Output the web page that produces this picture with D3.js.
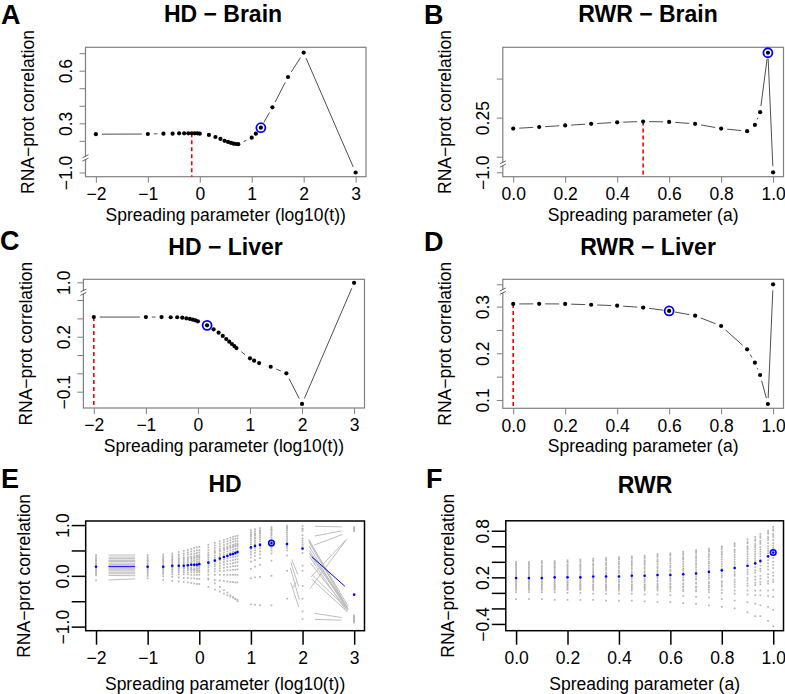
<!DOCTYPE html>
<html>
<head>
<meta charset="utf-8">
<script src="https://cdn.jsdelivr.net/npm/d3@7"></script>
<style>
  body { margin: 0; background: #fff; }
  svg { display: block; font-family: "Liberation Sans", Arial, sans-serif; }
</style>
</head>
<body>
<svg id="fig" width="785" height="694"></svg>
<script>
// spreading parameter values
const hdT = [0.01, 0.1, 0.2, 0.3, 0.4, 0.5, 0.6, 0.7, 0.8, 0.9, 1, 1.5, 2, 2.5, 3, 3.5, 4, 4.5, 5, 5.5, 10, 12, 15, 25, 50, 100, 1000];
const rwrA = [0, 0.1, 0.2, 0.3, 0.4, 0.5, 0.6, 0.7, 0.8, 0.9, 0.93, 0.95, 0.98, 1];
const rwrAll = [0, 0.05, 0.1, 0.15, 0.2, 0.25, 0.3, 0.35, 0.4, 0.45, 0.5, 0.55, 0.6, 0.65, 0.7, 0.75, 0.8, 0.85, 0.9, 0.93, 0.95, 0.98, 1];

// correlation per tissue
const hdBrain = [0.238, 0.239, 0.241, 0.241, 0.243, 0.243, 0.243, 0.243, 0.243, 0.243, 0.241, 0.234, 0.222, 0.211, 0.200, 0.194, 0.188, 0.184, 0.182, 0.181, 0.218, 0.241, 0.275, 0.391, 0.564, 0.703, -1.0];
const rwrBrain = [0.236, 0.238, 0.240, 0.242, 0.244, 0.245, 0.2445, 0.242, 0.236, 0.2326, 0.2407, 0.257, 0.333, -1.0];
const hdLiver = [0.307, 0.307, 0.307, 0.306, 0.306, 0.304, 0.300, 0.297, 0.293, 0.289, 0.284, 0.262, 0.240, 0.222, 0.204, 0.187, 0.173, 0.160, 0.149, 0.138, 0.082, 0.069, 0.056, 0.036, 0.0, -0.167, 0.97];
const rwrLiver = [0.3057, 0.306, 0.3057, 0.304, 0.302, 0.298, 0.2907, 0.2806, 0.2585, 0.2086, 0.18, 0.1535, 0.0914, 1.0];

// index of best value (blue ring) and of default value (red dashes)
const hdBrainBest = 22, hdBrainDefault = 7;
const rwrBrainBest = 12, rwrBrainDefault = 5;
const hdLiverBest = 11, hdLiverDefault = 0;
const rwrLiverBest = 6, rwrLiverDefault = 0;

// all tissues: mean correlation (blue)
const hdMean = [0.18, 0.18, 0.18, 0.20, 0.20, 0.20, 0.21, 0.22, 0.22, 0.22, 0.23, 0.26, 0.30, 0.34, 0.37, 0.39, 0.42, 0.43, 0.45, 0.47, 0.56, 0.59, 0.61, 0.645, 0.625, 0.54, -0.37];
const rwrMean = [0.19, 0.19, 0.19, 0.20, 0.20, 0.20, 0.21, 0.21, 0.21, 0.22, 0.22, 0.23, 0.23, 0.24, 0.25, 0.27, 0.29, 0.32, 0.35, 0.38, 0.41, 0.47, 0.52];
const hdMeanBest = 23, rwrMeanBest = 22;

// all tissues: one row per tissue (grey)
const hdTissues = [
  [0.41,0.41,0.42,0.44,0.47,0.49,0.51,0.53,0.55,0.56,0.57,0.61,0.65,0.68,0.71,0.73,0.75,0.77,0.78,0.79,0.90,0.92,0.94,0.96,0.99,0.98,0.96],
  [0.37,0.37,0.38,0.40,0.42,0.44,0.46,0.48,0.49,0.50,0.51,0.56,0.60,0.63,0.66,0.68,0.70,0.72,0.73,0.74,0.86,0.88,0.90,0.93,0.96,0.93,-0.88],
  [0.34,0.34,0.35,0.37,0.39,0.40,0.42,0.43,0.44,0.45,0.46,0.51,0.55,0.58,0.61,0.63,0.65,0.67,0.68,0.69,0.82,0.84,0.87,0.90,0.93,0.88,-0.85],
  [0.31,0.31,0.32,0.33,0.35,0.36,0.37,0.38,0.39,0.40,0.41,0.46,0.50,0.53,0.56,0.58,0.60,0.61,0.63,0.64,0.78,0.80,0.83,0.86,0.90,0.80,-0.90],
  [0.28,0.28,0.29,0.30,0.31,0.32,0.33,0.34,0.35,0.36,0.37,0.41,0.45,0.48,0.51,0.53,0.55,0.57,0.58,0.59,0.74,0.76,0.79,0.83,0.86,0.74,0.93],
  [0.25,0.25,0.26,0.27,0.28,0.29,0.30,0.31,0.31,0.32,0.33,0.37,0.40,0.43,0.46,0.48,0.50,0.52,0.53,0.54,0.70,0.73,0.76,0.80,0.82,0.70,-0.82],
  [0.22,0.22,0.23,0.24,0.25,0.26,0.27,0.27,0.28,0.28,0.29,0.33,0.36,0.39,0.41,0.43,0.45,0.47,0.48,0.49,0.66,0.69,0.72,0.76,0.78,0.66,-0.86],
  [0.20,0.20,0.20,0.21,0.22,0.23,0.23,0.24,0.24,0.25,0.25,0.29,0.32,0.35,0.37,0.39,0.41,0.42,0.43,0.44,0.62,0.65,0.68,0.72,0.74,0.62,-0.80],
  [0.18,0.18,0.18,0.19,0.19,0.20,0.20,0.21,0.21,0.21,0.22,0.25,0.28,0.30,0.32,0.34,0.36,0.37,0.38,0.39,0.57,0.60,0.63,0.68,0.70,0.58,-0.92],
  [0.15,0.15,0.15,0.16,0.16,0.17,0.17,0.17,0.18,0.18,0.18,0.21,0.23,0.25,0.27,0.29,0.30,0.31,0.32,0.33,0.52,0.55,0.58,0.63,0.66,0.52,0.90],
  [0.13,0.13,0.13,0.13,0.13,0.14,0.14,0.14,0.14,0.15,0.15,0.17,0.19,0.20,0.22,0.23,0.24,0.25,0.26,0.27,0.47,0.50,0.54,0.60,0.62,0.45,-0.84],
  [0.10,0.10,0.10,0.10,0.10,0.10,0.11,0.11,0.11,0.11,0.11,0.12,0.14,0.15,0.16,0.17,0.18,0.19,0.19,0.20,0.42,0.45,0.48,0.55,0.58,0.20,-0.78],
  [0.07,0.07,0.07,0.07,0.07,0.07,0.07,0.07,0.07,0.07,0.07,0.08,0.09,0.10,0.10,0.11,0.11,0.12,0.12,0.13,0.36,0.39,0.42,0.50,0.55,-0.20,0.88],
  [0.04,0.04,0.04,0.03,0.03,0.03,0.03,0.02,0.02,0.02,0.02,0.02,0.02,0.02,0.02,0.02,0.02,0.02,0.02,0.02,0.28,0.31,0.35,0.44,0.50,-0.45,0.92],
  [0.01,0.00,-0.01,-0.02,-0.03,-0.04,-0.04,-0.05,-0.05,-0.06,-0.06,-0.07,-0.08,-0.09,-0.10,-0.11,-0.12,-0.12,-0.13,-0.13,0.14,0.18,0.22,0.30,0.40,-0.70,-0.86],
  [-0.09,-0.05,-0.08,-0.10,-0.11,-0.12,-0.13,-0.14,-0.15,-0.16,-0.16,-0.22,-0.27,-0.31,-0.35,-0.38,-0.41,-0.43,-0.45,-0.47,-0.05,-0.03,-0.02,0.00,0.10,-0.85,-0.88],
  [0.30,0.30,0.31,0.32,0.33,0.34,0.35,0.36,0.36,0.37,0.38,0.42,0.47,0.50,0.53,0.55,0.57,0.58,0.60,0.61,0.80,0.82,0.85,0.90,0.95,0.92,-0.80],
  [0.19,0.19,0.18,0.17,0.16,0.15,0.14,0.13,0.12,0.11,0.10,-0.05,-0.15,-0.22,-0.28,-0.33,-0.38,-0.42,-0.46,-0.50,-0.56,-0.57,-0.58,-0.58,-0.45,0.10,-0.83]
];
const rwrTissues = [
  [0.40,0.40,0.41,0.41,0.42,0.43,0.44,0.45,0.46,0.47,0.48,0.50,0.51,0.53,0.55,0.57,0.60,0.64,0.69,0.72,0.76,0.80,0.85],
  [0.38,0.38,0.39,0.39,0.40,0.41,0.42,0.43,0.44,0.45,0.46,0.48,0.49,0.51,0.53,0.55,0.58,0.62,0.66,0.69,0.73,0.78,0.82],
  [0.37,0.37,0.38,0.38,0.39,0.40,0.41,0.42,0.43,0.44,0.45,0.46,0.48,0.49,0.51,0.53,0.56,0.60,0.64,0.67,0.71,0.76,0.80],
  [0.35,0.35,0.35,0.36,0.36,0.37,0.38,0.39,0.40,0.41,0.42,0.43,0.45,0.46,0.48,0.50,0.53,0.56,0.60,0.63,0.67,0.72,0.76],
  [0.33,0.33,0.34,0.34,0.35,0.35,0.36,0.37,0.38,0.39,0.40,0.41,0.43,0.44,0.46,0.48,0.51,0.54,0.58,0.61,0.65,0.70,0.74],
  [0.32,0.32,0.32,0.33,0.33,0.34,0.35,0.36,0.37,0.37,0.38,0.40,0.41,0.43,0.44,0.46,0.49,0.52,0.56,0.59,0.63,0.68,0.72],
  [0.30,0.30,0.30,0.31,0.31,0.32,0.32,0.33,0.34,0.35,0.36,0.37,0.38,0.40,0.41,0.43,0.46,0.49,0.53,0.56,0.59,0.64,0.68],
  [0.28,0.28,0.28,0.29,0.29,0.30,0.30,0.31,0.32,0.32,0.33,0.34,0.35,0.37,0.38,0.40,0.43,0.46,0.50,0.53,0.56,0.60,0.64],
  [0.26,0.26,0.26,0.27,0.27,0.28,0.28,0.29,0.29,0.30,0.31,0.32,0.33,0.34,0.36,0.38,0.40,0.43,0.47,0.50,0.53,0.57,0.61],
  [0.24,0.24,0.24,0.25,0.25,0.25,0.26,0.26,0.27,0.27,0.28,0.29,0.30,0.31,0.33,0.35,0.37,0.40,0.44,0.47,0.50,0.54,0.58],
  [0.22,0.22,0.22,0.23,0.23,0.23,0.24,0.24,0.25,0.25,0.26,0.27,0.28,0.29,0.30,0.32,0.34,0.37,0.41,0.44,0.47,0.51,0.55],
  [0.20,0.20,0.20,0.20,0.21,0.21,0.21,0.22,0.22,0.23,0.23,0.24,0.25,0.26,0.27,0.29,0.31,0.34,0.38,0.41,0.43,0.47,0.50],
  [0.18,0.18,0.18,0.18,0.19,0.19,0.19,0.19,0.20,0.20,0.21,0.21,0.22,0.23,0.24,0.26,0.28,0.31,0.34,0.37,0.39,0.42,0.45],
  [0.16,0.16,0.16,0.16,0.16,0.17,0.17,0.17,0.17,0.18,0.18,0.19,0.19,0.20,0.21,0.23,0.25,0.27,0.30,0.33,0.35,0.38,0.40],
  [0.14,0.14,0.14,0.14,0.14,0.15,0.15,0.15,0.15,0.15,0.16,0.16,0.17,0.17,0.18,0.20,0.22,0.24,0.27,0.29,0.31,0.34,0.36],
  [0.13,0.13,0.13,0.13,0.13,0.13,0.14,0.14,0.14,0.14,0.14,0.15,0.15,0.16,0.17,0.18,0.20,0.22,0.24,0.26,0.28,0.30,0.32],
  [0.11,0.11,0.11,0.11,0.11,0.11,0.11,0.11,0.11,0.11,0.11,0.12,0.12,0.12,0.13,0.14,0.15,0.17,0.19,0.21,0.22,0.24,0.26],
  [0.10,0.10,0.10,0.10,0.10,0.10,0.10,0.10,0.10,0.10,0.10,0.10,0.11,0.11,0.12,0.12,0.13,0.14,0.16,0.17,0.18,0.20,0.22],
  [0.08,0.08,0.08,0.08,0.08,0.08,0.08,0.08,0.08,0.08,0.08,0.08,0.08,0.08,0.08,0.09,0.10,0.11,0.12,0.13,0.14,0.15,0.17],
  [0.07,0.07,0.07,0.07,0.07,0.07,0.07,0.07,0.07,0.07,0.07,0.07,0.07,0.07,0.07,0.07,0.08,0.08,0.09,0.10,0.11,0.12,0.14],
  [0.05,0.05,0.05,0.05,0.05,0.05,0.05,0.05,0.05,0.05,0.05,0.05,0.05,0.04,0.04,0.04,0.04,0.03,0.03,0.03,0.03,0.03,0.04],
  [0.04,0.04,0.04,0.04,0.04,0.04,0.04,0.03,0.03,0.03,0.03,0.03,0.02,0.02,0.02,0.01,0.00,-0.01,-0.02,-0.03,-0.03,-0.04,-0.05],
  [0.01,0.01,0.01,0.01,0.00,0.00,-0.01,-0.01,-0.01,-0.01,-0.02,-0.02,-0.03,-0.04,-0.05,-0.06,-0.08,-0.10,-0.12,-0.14,-0.16,-0.18,-0.22],
  [-0.08,-0.08,-0.08,-0.09,-0.09,-0.09,-0.09,-0.10,-0.10,-0.10,-0.11,-0.12,-0.12,-0.13,-0.14,-0.16,-0.18,-0.20,-0.25,-0.30,-0.30,-0.36,-0.43]
];

// tick values and labels
const logTicks = [0.01, 0.1, 1, 10, 100, 1000];
const logLabels = ['\u22122', '\u22121', '0', '1', '2', '3'];
const aTicks = [0, 0.2, 0.4, 0.6, 0.8, 1];
const aLabels = ['0.0', '0.2', '0.4', '0.6', '0.8', '1.0'];

const FS = 17.5;
const svg = d3.select('#fig');
svg.append('rect').attr('width', 785).attr('height', 694).attr('fill', '#fff');

// R type="b": segments with a gap around every point
function gapSegments(g, pts, gap, color, width) {
  for (let i = 0; i < pts.length - 1; i++) {
    const [xa, ya] = pts[i], [xb, yb] = pts[i + 1];
    const d = Math.hypot(xb - xa, yb - ya);
    if (d <= 2 * gap) continue;
    const ux = (xb - xa) / d, uy = (yb - ya) / d;
    g.append('line')
      .attr('x1', xa + ux * gap).attr('y1', ya + uy * gap)
      .attr('x2', xb - ux * gap).attr('y2', yb - uy * gap)
      .attr('stroke', color).attr('stroke-width', width);
  }
}

function drawAxes(g, o, x, y, w, h) {
  const gx = g.append('g')
    .attr('transform', `translate(0,${h})`)
    .call(d3.axisBottom(x).tickValues(o.xTicks).tickFormat((d, i) => o.xLabels[i])
      .tickSize(o.tick).tickPadding(o.xPad));
  gx.attr('font-family', null).attr('font-size', null);
  gx.select('.domain').remove();
  gx.selectAll('line').attr('stroke', o.axisColor).attr('stroke-width', o.axisWidth);
  gx.selectAll('text').attr('font-size', FS).attr('fill', '#000');

  const gy = g.append('g')
    .call(d3.axisLeft(y).tickValues(o.yTicks).tickFormat((d, i) => o.yLabels[i]).tickSize(o.tick));
  gy.attr('font-family', null).attr('font-size', null);
  gy.select('.domain').remove();
  gy.selectAll('line').attr('stroke', o.axisColor).attr('stroke-width', o.axisWidth);
  gy.selectAll('text')
    .attr('font-size', FS).attr('fill', '#000')
    .attr('transform', 'rotate(-90)')
    .attr('x', 0).attr('y', -o.yPad).attr('dy', null)
    .attr('text-anchor', 'middle');

  g.append('rect').attr('width', w).attr('height', h)
    .attr('fill', 'none').attr('stroke', o.boxColor).attr('stroke-width', o.boxWidth);
}

function labels(o) {
  const [x0, y0, x1, y1] = o.box;
  svg.append('text').attr('x', o.letterPos[0]).attr('y', o.letterPos[1])
    .attr('font-size', 27).attr('font-weight', 'bold').text(o.letter);
  svg.append('text').attr('x', o.titlePos[0]).attr('y', o.titlePos[1])
    .attr('text-anchor', 'middle').attr('font-size', 23).attr('font-weight', 'bold').text(o.title);
  svg.append('text').attr('x', (x0 + x1) / 2).attr('y', y1 + o.xTitleOff)
    .attr('text-anchor', 'middle').attr('font-size', FS).text(o.xTitle);
  svg.append('text')
    .attr('transform', `translate(${x0 - o.yTitleOff},${(y0 + y1) / 2}) rotate(-90)`)
    .attr('text-anchor', 'middle').attr('font-size', FS).text('RNA\u2212prot correlation');
}

function linePanel(o) {
  const [x0, y0, x1, y1] = o.box;
  const w = x1 - x0, h = y1 - y0;
  const g = svg.append('g').attr('transform', `translate(${x0},${y0})`);
  const x = o.x.range([0, w]);
  const y = d3.scaleLinear().domain(o.yDomain).range(o.yRange);

  drawAxes(g, Object.assign({
    tick: 6, xPad: 5, yPad: 13.5, axisColor: '#808080', axisWidth: 1,
    boxColor: '#808080', boxWidth: 1.2
  }, o), x, y, w, h);

  // axis break on the y axis
  const yb = y(o.yDomain[1]);
  g.append('rect').attr('x', -3).attr('y', yb - 2).attr('width', 6).attr('height', 3).attr('fill', '#fff');
  [-2.2, 1.2].forEach(dy => {
    g.append('line').attr('x1', -3).attr('y1', yb + dy + 1.5).attr('x2', 3).attr('y2', yb + dy - 1.5)
      .attr('stroke', '#555').attr('stroke-width', 0.9);
  });

  const pts = o.xs.map((d, i) => [x(d), y(o.ys[i])]);
  gapSegments(g, pts, 6, '#3a3a3a', 0.9);

  const dp = pts[o.def];
  g.append('line').attr('x1', dp[0]).attr('x2', dp[0]).attr('y1', dp[1]).attr('y2', h)
    .attr('stroke', '#ff0000').attr('stroke-width', 1.6).attr('stroke-dasharray', '4,3');

  g.selectAll('circle.pt').data(pts).enter().append('circle')
    .attr('cx', d => d[0]).attr('cy', d => d[1]).attr('r', 2.1).attr('fill', '#000');

  const bp = pts[o.best];
  g.append('circle').attr('cx', bp[0]).attr('cy', bp[1]).attr('r', 4.5)
    .attr('fill', 'none').attr('stroke', '#0000ff').attr('stroke-width', 1.8);

  labels(o);
}

function spreadPanel(o) {
  const [x0, y0, x1, y1] = o.box;
  const w = x1 - x0, h = y1 - y0;
  const g = svg.append('g').attr('transform', `translate(${x0},${y0})`);
  const x = o.x.range([0, w]);
  const y = d3.scaleLinear().domain(o.yDomain).range([h, 0]);

  const grey = g.append('g');
  o.tissues.forEach(row => {
    const pts = row.map((v, i) => [x(o.xs[i]), y(v)]);
    gapSegments(grey, pts, 12.5, '#bebebe', 1);
    grey.selectAll(null).data(pts).enter().append('rect')
      .attr('x', d => d[0] - 0.85).attr('y', d => d[1] - 0.85)
      .attr('width', 1.7).attr('height', 1.7).attr('fill', '#b4b4b4');
  });

  const mp = o.mean.map((v, i) => [x(o.xs[i]), y(v)]);
  gapSegments(g, mp, 12.5, '#0000ff', 1);
  g.selectAll('circle.m').data(mp).enter().append('circle')
    .attr('cx', d => d[0]).attr('cy', d => d[1]).attr('r', 1.3).attr('fill', '#0000ff');
  const bp = mp[o.best];
  g.append('circle').attr('cx', bp[0]).attr('cy', bp[1]).attr('r', 2.8)
    .attr('fill', 'none').attr('stroke', '#0000ff').attr('stroke-width', 1.6);

  drawAxes(g, Object.assign({
    tick: 14, xPad: 7, yPad: 16.5, axisColor: '#000', axisWidth: 1.5,
    boxColor: '#000', boxWidth: 1.5
  }, o), x, y, w, h);

  labels(o);
}

const logX = () => d3.scaleLog().domain([Math.pow(10, -2.2), Math.pow(10, 3.2)]);
const linX = () => d3.scaleLinear().domain([-0.04, 1.04]);

linePanel({
  letter: 'A', letterPos: [1, 24], title: 'HD \u2212 Brain', titlePos: [223, 21.7],
  box: [85.5, 47.3, 366, 176.7], x: logX(), xs: hdT, ys: hdBrain,
  yDomain: [-1, 0.1, 0.7], yRange: [125.2, 111.1, 5.85],
  xTicks: logTicks, xLabels: logLabels,
  yTicks: [-1, 0.2, 0.3, 0.4, 0.5, 0.6, 0.7], yLabels: ['\u22121.0', '', '0.3', '', '', '0.6', ''],
  best: hdBrainBest, def: hdBrainDefault,
  xTitle: 'Spreading parameter (log10(t))', xTitleOff: 43.8, yTitleOff: 51.8
});

linePanel({
  letter: 'B', letterPos: [424, 24], title: 'RWR \u2212 Brain', titlePos: [648, 22.3],
  box: [502.8, 47.3, 783.5, 176.7], x: linX(), xs: rwrA, ys: rwrBrain,
  yDomain: [-1, 0.19, 0.34], yRange: [125, 117.2, 0],
  xTicks: aTicks, xLabels: aLabels,
  yTicks: [-1, 0.2, 0.25, 0.3], yLabels: ['\u22121.0', '', '0.25', ''],
  best: rwrBrainBest, def: rwrBrainDefault,
  xTitle: 'Spreading parameter (a)', xTitleOff: 43.8, yTitleOff: 51.8
});

linePanel({
  letter: 'C', letterPos: [0, 250], title: 'HD \u2212 Liver', titlePos: [225.5, 254.5],
  box: [83.4, 279.3, 364.5, 408], x: logX(), xs: hdT, ys: hdLiver,
  yDomain: [-0.2, 0.44, 1.0], yRange: [130.7, 13.4, 3],
  xTicks: logTicks, xLabels: logLabels,
  yTicks: [-0.1, 0, 0.1, 0.2, 0.3, 0.4, 1.0], yLabels: ['\u22120.1', '', '', '0.2', '', '', '1.0'],
  best: hdLiverBest, def: hdLiverDefault,
  xTitle: 'Spreading parameter (log10(t))', xTitleOff: 43.8, yTitleOff: 51.8
});

linePanel({
  letter: 'D', letterPos: [424, 251], title: 'RWR \u2212 Liver', titlePos: [648, 255],
  box: [502.8, 279.3, 783.5, 408.3], x: linX(), xs: rwrA, ys: rwrLiver,
  yDomain: [0.08, 0.332, 1.0], yRange: [130, 12.4, 5],
  xTicks: aTicks, xLabels: aLabels,
  yTicks: [0.1, 0.15, 0.2, 0.25, 0.3, 1.0], yLabels: ['0.1', '', '0.2', '', '0.3', ''],
  best: rwrLiverBest, def: rwrLiverDefault,
  xTitle: 'Spreading parameter (a)', xTitleOff: 43.8, yTitleOff: 51.8
});

spreadPanel({
  letter: 'E', letterPos: [1, 488], title: 'HD', titlePos: [225, 492],
  box: [85.7, 521, 364.5, 630.7], x: logX(), xs: hdT, tissues: hdTissues, mean: hdMean, best: hdMeanBest,
  yDomain: [-1.08, 1.08],
  xTicks: logTicks, xLabels: logLabels,
  yTicks: [-1, -0.5, 0, 0.5, 1], yLabels: ['\u22121.0', '', '0.0', '', '1.0'],
  xTitle: 'Spreading parameter (log10(t))', xTitleOff: 59.5, yTitleOff: 55.3
});

spreadPanel({
  letter: 'F', letterPos: [426, 488], title: 'RWR', titlePos: [645, 493],
  box: [505.8, 520.8, 783.5, 630.7], x: linX(), xs: rwrAll, tissues: rwrTissues, mean: rwrMean, best: rwrMeanBest,
  yDomain: [-0.487, 0.928],
  xTicks: aTicks, xLabels: aLabels,
  yTicks: [-0.4, -0.2, 0, 0.2, 0.4, 0.6, 0.8], yLabels: ['\u22120.4', '', '', '0.2', '', '', '0.8'],
  xTitle: 'Spreading parameter (a)', xTitleOff: 59.5, yTitleOff: 51.8
});
</script>
</body>
</html>
